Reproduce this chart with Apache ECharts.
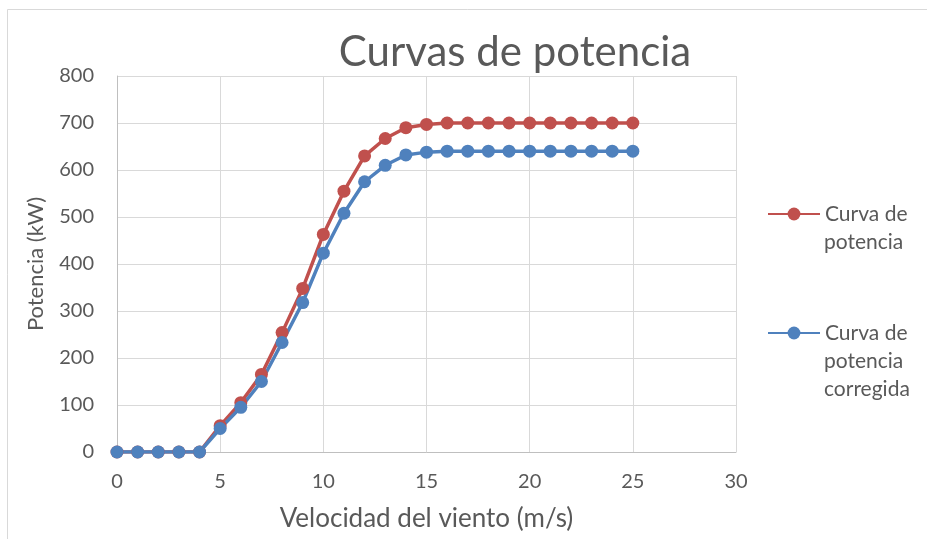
<!DOCTYPE html>
<html>
<head>
<meta charset="utf-8">
<script src="https://cdn.jsdelivr.net/npm/echarts@6/dist/echarts.min.js"></script>
<style>html,body{margin:0;padding:0;background:#fff;}#c{width:927px;height:539px;}</style>
</head>
<body>
<div id="c"></div>
<script>
var titleText = 'Curvas de potencia';
var xAxisName = 'Velocidad del viento (m/s)';
var yAxisName = 'Potencia (kW)';
var seriesNames = ['Curva de potencia', 'Curva de potencia corregida'];
var legendFirstLines = ['Curva de', 'Curva de'];
var legendMoreLines = ['potencia', 'potencia\ncorregida'];
var windSpeed = [0,1,2,3,4,5,6,7,8,9,10,11,12,13,14,15,16,17,18,19,20,21,22,23,24,25];
var powerCurve = [0,0,0,0,0,56,105,165,254,348,463,555,630,667,690,697,700,700,700,700,700,700,700,700,700,700];
var powerCorrected = [0,0,0,0,0,50,95,150,233,318,423,508,575,610,632,638,640,640,640,640,640,640,640,640,640,640];

function pairs(xs, ys) { return xs.map(function (x, i) { return [x, ys[i]]; }); }

var font = 'Lato';
var grey = '#595959';
var legendFont = {fontFamily: font, fontSize: 21, color: grey, lineHeight: 28};
var chart = echarts.init(document.getElementById('c'), null, {renderer: 'canvas'});
chart.setOption({
  animation: false,
  backgroundColor: '#fff',
  graphic: [{
    type: 'rect', left: 5, top: 7, silent: true,
    shape: {x: 0, y: 0, width: 930, height: 560},
    style: {fill: 'none', stroke: '#d9d9d9', lineWidth: 1}
  }, {
    type: 'text', left: 824, top: 228, silent: true,
    style: {text: legendMoreLines[0], font: '21px Lato', fill: grey, lineHeight: 28}
  }, {
    type: 'text', left: 824, top: 347, silent: true,
    style: {text: legendMoreLines[1], font: '21px Lato', fill: grey, lineHeight: 28}
  }],
  title: {
    text: titleText, left: 510, top: 26, textAlign: 'center',
    textStyle: {fontFamily: font, fontSize: 42, fontWeight: 'normal', color: grey}
  },
  legend: [{
    data: [seriesNames[0]], orient: 'vertical', left: 767, top: 200, padding: 0,
    itemWidth: 52, itemHeight: 16,
    formatter: function () { return legendFirstLines[0]; },
    textStyle: legendFont
  }, {
    data: [seriesNames[1]], orient: 'vertical', left: 767, top: 319, padding: 0,
    itemWidth: 52, itemHeight: 16,
    formatter: function () { return legendFirstLines[1]; },
    textStyle: legendFont
  }],
  grid: {left: 117, right: 191, top: 76, bottom: 87, containLabel: false},
  xAxis: {
    type: 'value', min: 0, max: 30, interval: 5,
    name: xAxisName, nameLocation: 'middle', nameGap: 54,
    nameTextStyle: {fontFamily: font, fontSize: 26, color: grey},
    axisLine: {show: true, lineStyle: {color: '#bfbfbf', width: 1}},
    axisTick: {show: false},
    axisLabel: {fontFamily: font, fontSize: 20, color: grey, margin: 20},
    splitLine: {show: true, lineStyle: {color: '#d9d9d9', width: 1}}
  },
  yAxis: {
    type: 'value', min: 0, max: 800, interval: 100,
    name: yAxisName, nameLocation: 'middle', nameGap: 70, nameRotate: 90,
    nameTextStyle: {fontFamily: font, fontSize: 22, color: grey},
    axisLine: {show: true, lineStyle: {color: '#bfbfbf', width: 1}},
    axisTick: {show: false},
    axisLabel: {fontFamily: font, fontSize: 20, color: grey, margin: 23},
    splitLine: {show: true, lineStyle: {color: '#d9d9d9', width: 1}}
  },
  series: [{
    name: seriesNames[0], type: 'line', data: pairs(windSpeed, powerCurve),
    symbol: 'circle', symbolSize: 13, color: '#C0504D',
    lineStyle: {width: 3.5, color: '#C0504D'}, itemStyle: {color: '#C0504D'}
  }, {
    name: seriesNames[1], type: 'line', data: pairs(windSpeed, powerCorrected),
    symbol: 'circle', symbolSize: 13, color: '#4F81BD',
    lineStyle: {width: 3.5, color: '#4F81BD'}, itemStyle: {color: '#4F81BD'}
  }]
});
</script>
</body>
</html>
